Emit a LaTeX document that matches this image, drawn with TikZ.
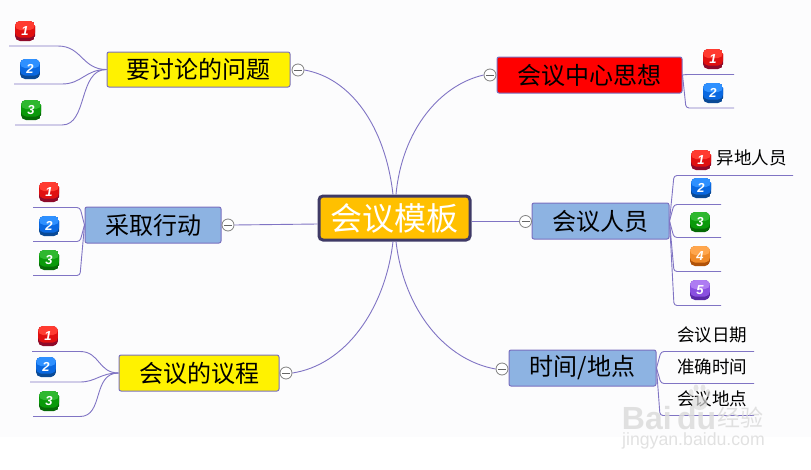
\documentclass[tikz,border=0pt]{standalone}
\usepackage{fontspec}
\setmainfont{Noto Sans CJK SC}
\newfontfamily\digitfont[Scale=1]{Liberation Sans}
\usetikzlibrary{calc}
\definecolor{pagebg}{HTML}{FCFCFD}
\definecolor{edgec}{HTML}{8074C4}
\definecolor{boxedge}{HTML}{7A70C0}
\definecolor{bluebox}{HTML}{8DB3E2}
\definecolor{centeredge}{HTML}{3F3A66}
\definecolor{centerfill}{HTML}{FFC000}
\definecolor{wm}{HTML}{DCDCDC}
\definecolor{redA}{HTML}{FF3B30}\definecolor{redB}{HTML}{E01010}\definecolor{redC}{HTML}{8E0A2A}
\definecolor{bluA}{HTML}{2E90FF}\definecolor{bluB}{HTML}{0A68E0}\definecolor{bluC}{HTML}{0A4A96}
\definecolor{grnA}{HTML}{2FB82F}\definecolor{grnB}{HTML}{0A9A0A}\definecolor{grnC}{HTML}{066A06}
\definecolor{ornA}{HTML}{FFA64D}\definecolor{ornB}{HTML}{F08A28}\definecolor{ornC}{HTML}{B05208}
\definecolor{purA}{HTML}{AE7CF2}\definecolor{purB}{HTML}{8A50E0}\definecolor{purC}{HTML}{5A2AA8}
\tikzset{
  topic/.style={draw=boxedge,line width=1pt,rounded corners=2pt,inner sep=0pt,text=black,
    font=\fontsize{24}{26}\selectfont,minimum height=36pt},
  yellowtopic/.style={topic,fill=yellow},
  redtopic/.style={topic,fill=red},
  bluetopic/.style={topic,fill=bluebox},
  centertopic/.style={draw=centeredge,line width=3pt,rounded corners=4pt,fill=centerfill,text=white,
    inner sep=0pt,font=\fontsize{32}{34}\selectfont,minimum width=151pt,minimum height=44pt},
  edgeline/.style={draw=edgec,line width=0.9pt},
  fan/.style={edgeline,rounded corners=3pt},
  collapser/.style={circle,draw=black!50,fill=white,line width=0.8pt,minimum size=12pt,inner sep=0pt,
    path picture={\draw[black!60,line width=0.8pt] ($(path picture bounding box.west)+(2pt,0)$) -- ($(path picture bounding box.east)+(-2pt,0)$);}},
  leaf/.style={inner sep=0pt,text=black,font=\fontsize{17.5}{19}\selectfont},
  wmtext/.style={inner sep=0pt,text=wm,opacity=0.85},
  wmpaw/.style={fill=wm,opacity=0.7},
  icon/.style n args={3}{rectangle,rounded corners=5pt,minimum size=20pt,inner sep=0pt,text=white,
    font=\digitfont\bfseries\itshape\fontsize{13}{13}\selectfont,
    path picture={
      \fill[#3] (path picture bounding box.south west) rectangle (path picture bounding box.north east);
      \fill[#2] ($(path picture bounding box.south west)+(0,3.5pt)$) rectangle (path picture bounding box.north east);
      \fill[#1] ($(path picture bounding box.west)+(0,1pt)$) rectangle (path picture bounding box.north east);
    }},
  iconone/.style={icon={redA}{redB}{redC}},
  icontwo/.style={icon={bluA}{bluB}{bluC}},
  iconthree/.style={icon={grnA}{grnB}{grnC}},
  iconfour/.style={icon={ornA}{ornB}{ornC}},
  iconfive/.style={icon={purA}{purB}{purC}},
}
\begin{document}
\begin{tikzpicture}[x=1pt,y=-1pt]
\useasboundingbox (0,0) rectangle (811,469);
\fill[pagebg] (0,0) rectangle (811,436.5);

\coordinate (ctl) at (393,197);
\coordinate (ctr) at (396,197);
\coordinate (cbl) at (393,239);
\coordinate (cbr) at (396,239);
\coordinate (cwest) at (318,224);

% topics
\node[centertopic] (center) at (394.5,218) {会议模板};
\node[yellowtopic,minimum width=183pt,minimum height=35pt] (q) at (198.5,69.5) {要讨论的问题};
\node[redtopic,minimum width=185pt] (idea) at (589.5,75) {会议中心思想};
\node[bluetopic,minimum width=137pt] (people) at (600.5,221) {会议人员};
\node[bluetopic,minimum width=147pt] (time) at (582.5,368) {时间/地点};
\node[bluetopic,minimum width=136pt] (act) at (153,225) {采取行动};
\node[yellowtopic,minimum width=160pt] (agenda) at (199,373) {会议的议程};

% collapse circles
\node[collapser] (cq) at (298,70) {};
\node[collapser] (cidea) at (490,75) {};
\node[collapser] (cpeople) at (525.5,221.5) {};
\node[collapser] (ctime) at (502,369) {};
\node[collapser] (cact) at (228,225) {};
\node[collapser] (cagenda) at (286,373) {};

\draw[edgeline] (ctl |- center.north) .. controls (385,125) and (350,78) .. (cq.east);
\draw[edgeline] (ctr |- center.north) .. controls (402,130) and (440,85) .. (cidea.west);
\draw[edgeline] (cbl |- center.south) .. controls (385,310) and (345,365) .. (cagenda.east);
\draw[edgeline] (cbr |- center.south) .. controls (404,310) and (445,360) .. (ctime.west);
\draw[edgeline] (center.west |- cwest) -- (cact.east);
\draw[edgeline] (center.east |- cpeople) -- (cpeople.west);

% left leaves of q
\coordinate (q1) at (9,46);
\coordinate (q2) at (14,84);
\coordinate (q3) at (15,125);
\draw[edgeline] (q1) -- (58,46) .. controls (82,46) and (82,69.5) .. (q.west);
\draw[edgeline] (q2) -- (62,84) .. controls (82,84) and (85,69.5) .. (q.west);
\draw[edgeline] (q3) -- (62,125) .. controls (88,125) and (78,69.5) .. (q.west);
\node[iconone] (qi1) at (25,31) {1};
\node[icontwo] (qi2) at (30,69) {2};
\node[iconthree] (qi3) at (31,110) {3};

% idea leaves
\coordinate (i1) at (734,74.5);
\coordinate (i2) at (734,108);
\draw[fan] (idea.east) -- (685,74.5) -- (i1);
\draw[fan] (idea.east) -- (686,108) -- (i2);
\node[iconone] (ii1) at (713,59) {1};
\node[icontwo] (ii2) at (713,93) {2};

% people leaves
\coordinate (p1) at (793,175.5);
\coordinate (p2) at (721,204.5);
\coordinate (p3) at (721,237.5);
\coordinate (p4) at (721,271.5);
\coordinate (p5) at (721,305.5);
\draw[fan] (people.east) -- (674,175.5) -- (p1);
\draw[fan] (people.east) -- (674,204.5) -- (p2);
\draw[fan] (people.east) -- (674,237.5) -- (p3);
\draw[fan] (people.east) -- (674,271.5) -- (p4);
\draw[fan] (people.east) -- (674,305.5) -- (p5);
\node[iconone] (pi1) at (701,160) {1};
\node[icontwo] (pi2) at (701,188) {2};
\node[iconthree] (pi3) at (700,222) {3};
\node[iconfour] (pi4) at (700,256) {4};
\node[iconfive] (pi5) at (700,290) {5};
\node[leaf] (remote) at (751.5,157.5) {异地人员};

% time leaves
\coordinate (t1) at (754,351.5);
\coordinate (t2) at (754,383.5);
\coordinate (t3) at (754,415.5);
\draw[fan] (time.east) -- (661,351.5) -- (t1);
\draw[fan] (time.east) -- (661,383.5) -- (t2);
\draw[fan] (time.east) -- (660,415.5) -- (t3);
\node[leaf] (date) at (712,334.5) {会议日期};
\node[leaf] (exact) at (712,366.5) {准确时间};
\node[leaf] (place) at (712,398.5) {会议地点};

% act leaves
\coordinate (a1) at (33,207.5);
\coordinate (a2) at (33,241.5);
\coordinate (a3) at (33,275.5);
\draw[fan] (act.west) -- (80,207.5) -- (a1);
\draw[fan] (act.west) -- (80,241.5) -- (a2);
\draw[fan] (act.west) -- (80,275.5) -- (a3);
\node[iconone] (ai1) at (49,192) {1};
\node[icontwo] (ai2) at (49,226) {2};
\node[iconthree] (ai3) at (49,260) {3};

% agenda leaves
\coordinate (g1) at (32,351.5);
\coordinate (g2) at (30,382);
\coordinate (g3) at (33,416.5);
\draw[edgeline] (g1) -- (80,351.5) .. controls (100,351.5) and (98,373) .. (agenda.west);
\draw[edgeline] (g2) -- (80,382) .. controls (96,382) and (100,373) .. (agenda.west);
\draw[edgeline] (g3) -- (80,416.5) .. controls (104,416.5) and (92,373) .. (agenda.west);
\node[iconone] (gi1) at (48,336) {1};
\node[icontwo] (gi2) at (46,367) {2};
\node[iconthree] (gi3) at (49,401) {3};

% watermark
\fill[wmpaw] (691,393) ellipse (2.5 and 4);
\fill[wmpaw] (696,388) ellipse (2.5 and 3.5);
\fill[wmpaw] (703,388) ellipse (2.5 and 3.5);
\fill[wmpaw] (708,393) ellipse (2.5 and 4);
\fill[wmpaw] (699.5,403) ellipse (8 and 7);
\node[wmtext,font=\digitfont\bfseries\fontsize{32}{32}\selectfont] (wm1) at (669,418) {Bai\,du};
\node[wmtext,font=\fontsize{23}{24}\selectfont] (wm2) at (740,418) {经验};
\node[wmtext,font=\digitfont\fontsize{17.7}{18}\selectfont] (wm3) at (693.5,441) {jingyan.baidu.com};
\end{tikzpicture}
\end{document}
